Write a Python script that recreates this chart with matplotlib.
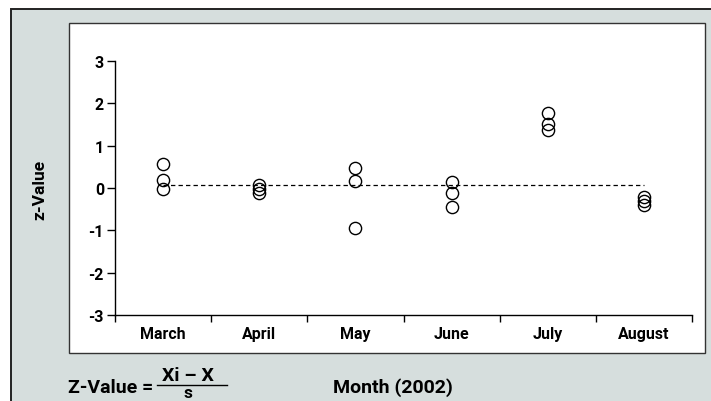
import matplotlib.pyplot as plt
from matplotlib.patches import Rectangle

plt.rcParams["font.family"] = ["Roboto", "DejaVu Sans"]
plt.rcParams["font.weight"] = "bold"

months = ["March", "April", "May", "June", "July", "August"]
z_values = [
    [0.57, 0.19, -0.02],
    [0.07, -0.03, -0.12],
    [0.47, 0.16, -0.95],
    [0.14, -0.12, -0.45],
    [1.77, 1.52, 1.37],
    [-0.22, -0.31, -0.40],
]
reference = 0.06
y_ticks = [-3, -2, -1, 0, 1, 2, 3]

W, H = 711, 402
fig = plt.figure(figsize=(W / 100, H / 100), dpi=100)

grey = "#d6dedd"
# outer grey panel (runs off the right and bottom edge)
fig.patches.append(Rectangle((11 / W, -0.1), 1.2, (H - 10) / H + 0.1,
                             transform=fig.transFigure, facecolor=grey,
                             edgecolor="#222222", linewidth=1.4, zorder=0))
# white plot panel
fig.patches.append(Rectangle((69 / W, (H - 354) / H), (705 - 69) / W, (354 - 24) / H,
                             transform=fig.transFigure, facecolor="white",
                             edgecolor="#333333", linewidth=1.0, zorder=1))

ax = fig.add_axes([115 / W, (H - 316) / H, (692 - 115) / W, (316 - 62) / H])
ax.patch.set_alpha(0)
ax.set_zorder(2)

for i, vals in enumerate(z_values):
    ax.plot([i + 0.5] * len(vals), vals, linestyle="none", marker="o", markersize=8.8,
            markerfacecolor="none", markeredgecolor="black", markeredgewidth=1.0,
            clip_on=False)

ax.plot([0.5, len(months) - 0.5], [reference, reference], color="black",
        linewidth=0.9, linestyle=(0, (3.5, 2.5)), zorder=1)

ax.set_xlim(0, len(months))
ax.set_ylim(-3, 3)
ax.spines["top"].set_visible(False)
ax.spines["right"].set_visible(False)
for s in ("left", "bottom"):
    ax.spines[s].set_linewidth(1.0)

ax.set_yticks(y_ticks)
ax.set_yticklabels([str(v) for v in y_ticks])
ax.set_xticks(range(len(months) + 1))
ax.set_xticklabels([])
ax.set_xticks([i + 0.5 for i in range(len(months))], minor=True)
ax.set_xticklabels(months, minor=True)
ax.tick_params(axis="y", length=6, width=1.0, pad=2, labelsize=11.5)
ax.tick_params(axis="x", which="major", length=5, width=1.0)
ax.tick_params(axis="x", which="minor", length=0, pad=8, labelsize=11.5)

fig.text(40 / W, 1 - 190 / H, "z-Value", rotation=90, ha="center", va="center",
         fontsize=12.5, fontweight="bold")
fig.text(68 / W, 1 - 388 / H, "Z-Value =", ha="left", va="center",
         fontsize=14, fontweight="bold")
fig.text(188 / W, 1 - 376 / H, "Xi \u2013 X", ha="center", va="center",
         fontsize=14, fontweight="bold")
fig.lines.append(plt.Line2D([157 / W, 227 / W], [1 - 386 / H, 1 - 386 / H],
                            transform=fig.transFigure, color="black", linewidth=1.0))
fig.text(188 / W, 1 - 401 / H, "s", ha="center", va="bottom",
         fontsize=12.5, fontweight="bold")
fig.text(333 / W, 1 - 388 / H, "Month (2002)", ha="left", va="center",
         fontsize=14, fontweight="bold")

fig.savefig("out.png", dpi=100)
